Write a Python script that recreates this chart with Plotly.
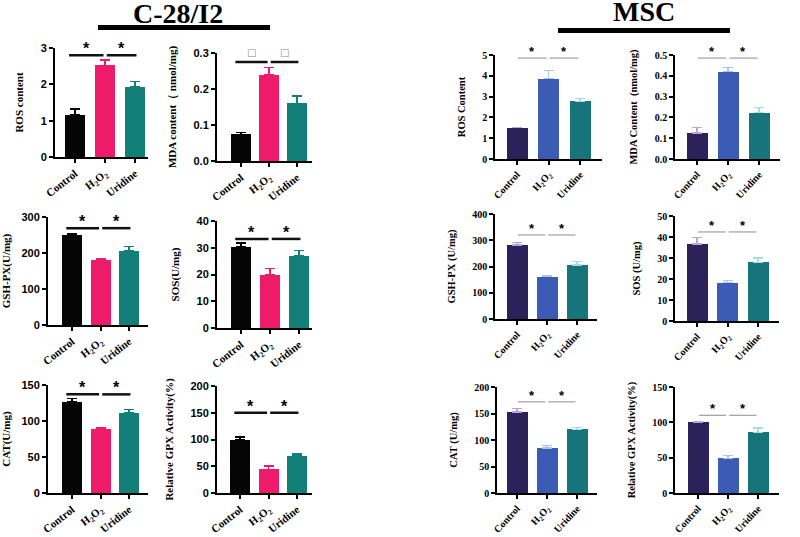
import plotly.graph_objects as go

W, H = 800, 537

groups = ["Control", "H<sub>2</sub>O<sub>2</sub>", "Uridine"]

# C-28/I2 data
ros_l = [1.15, 2.52, 1.93]
ros_l_err = [0.17, 0.15, 0.15]
mda_l = [0.074, 0.24, 0.16]
mda_l_err = [0.005, 0.02, 0.02]
gsh_l = [250, 181, 205]
gsh_l_err = [4, 3, 13]
sos_l = [30.3, 20.0, 27.0]
sos_l_err = [1.5, 2.2, 1.9]
cat_l = [126, 89, 111]
cat_l_err = [5, 2, 5]
gpx_l = [100, 44, 69]
gpx_l_err = [5, 7, 4]

# MSC data
ros_r = [1.5, 3.87, 2.77]
ros_r_err = [0.03, 0.4, 0.15]
mda_r = [0.125, 0.42, 0.222]
mda_r_err = [0.027, 0.02, 0.025]
gsh_r = [282, 161, 206]
gsh_r_err = [8, 6, 12]
sos_r = [36.7, 18.2, 28.0]
sos_r_err = [3.2, 1.2, 2.0]
cat_r = [153, 85, 120]
cat_r_err = [6, 5, 3]
gpx_r = [100, 49, 86]
gpx_r_err = [0.5, 4, 6]

# significance bar levels
sig_l = [2.8, 0.275, 269, 33.3, 137, 150]
sig_r = [4.85, 0.485, 320, 42.4, 172, 110]

left_colors = ["#050505", "#EE1A6A", "#128078"]
right_colors = ["#2B2259", "#3C5BB4", "#17747A"]
right_err_colors = ["#B6A6DE", "#A9C4EE", "#A7DCE0"]


def px_x(p):
    return p / W


def px_y(p):
    return 1 - p / H


# panel: values, errors, sig level, title, ymax, dtick, side, star text,
#        geometry px (y-axis x, x-axis end, first bar centre, spacing, y top, y bottom)
panels = [
    (ros_l, ros_l_err, sig_l[0], "ROS content", 3, 1, "L", "*", (55, 148, 75, 30, 48, 157)),
    (mda_l, mda_l_err, sig_l[1], "MDA content（ nmol/mg)", 0.3, 0.1, "L", "□", (217, 312, 241, 28, 53, 161)),
    (gsh_l, gsh_l_err, sig_l[2], "GSH-PX(U/mg)", 300, 100, "L", "*", (48, 148, 72, 28.5, 217, 325)),
    (sos_l, sos_l_err, sig_l[3], "SOS(U/mg)", 40, 10, "L", "*", (217, 312, 241, 29, 221, 328)),
    (cat_l, cat_l_err, sig_l[4], "CAT(U/mg)", 150, 50, "L", "*", (48, 148, 72, 28.5, 385, 493)),
    (gpx_l, gpx_l_err, sig_l[5], "Relative GPX Activity(%)", 200, 50, "L", "*", (217, 312, 240, 28.5, 386, 493)),
    (ros_r, ros_r_err, sig_r[0], "ROS Content", 5, 1, "R", "*", (495, 602, 517, 31.5, 55, 159)),
    (mda_r, mda_r_err, sig_r[1], "MDA Content  (nmol/mg)", 0.5, 0.1, "R", "*", (675, 780, 697, 31, 55, 159)),
    (gsh_r, gsh_r_err, sig_r[2], "GSH-PX (U/mg)", 400, 100, "R", "*", (495, 597, 517, 30, 214, 319)),
    (sos_r, sos_r_err, sig_r[3], "SOS (U/mg)", 50, 10, "R", "*", (675, 779, 697, 30.5, 216, 321)),
    (cat_r, cat_r_err, sig_r[4], "CAT (U/mg)", 200, 50, "R", "*", (497, 597, 517, 30, 387, 493)),
    (gpx_r, gpx_r_err, sig_r[5], "Relative GPX Activity(%)", 150, 50, "R", "*", (675, 779, 698, 30, 387, 493)),
]

fig = go.Figure()
layout = dict(
    width=W, height=H, margin=dict(l=0, r=0, t=0, b=0),
    paper_bgcolor="white", plot_bgcolor="white", showlegend=False,
    bargap=0,
)
annotations = []

for i, (vals, errs, sig, ytitle, ymax, dtick, side, star, geo) in enumerate(panels, start=1):
    xa = "x" if i == 1 else f"x{i}"
    ya = "y" if i == 1 else f"y{i}"
    x_ax, x_end, c0, sp, y_top, y_bot = geo
    left = side == "L"
    bw = (20 if left else 21) / sp

    for j in range(3):
        col = left_colors[j] if left else right_colors[j]
        ecol = left_colors[j] if left else right_err_colors[j]
        fig.add_trace(go.Bar(
            x=[j], y=[vals[j]], width=bw, marker_color=col, marker_line_width=0,
            error_y=dict(type="data", symmetric=False, array=[errs[j]], arrayminus=[0],
                         color=ecol, thickness=1.6 if left else 1.2, width=5),
            xaxis=xa, yaxis=ya, hoverinfo="skip",
        ))

    # significance lines
    if left:
        segs = [(-0.2, 0.95), (1.06, 2.05)]
        lcol, lw = "#111111", 2.5
    else:
        segs = [(0.03, 0.94), (1.04, 1.95)]
        lcol, lw = "#8C8C8C", 1
    fig.add_trace(go.Scatter(
        x=[segs[0][0], segs[0][1], None, segs[1][0], segs[1][1]],
        y=[sig, sig, None, sig, sig], mode="lines",
        line=dict(color=lcol, width=lw), xaxis=xa, yaxis=ya, hoverinfo="skip",
    ))
    for a, b in segs:
        if star == "□":
            annotations.append(dict(x=(a + b) / 2, y=sig, xref=xa, yref=ya, text=star,
                                    showarrow=False, yanchor="bottom", yshift=2,
                                    font=dict(size=10, color="#888888", family="DejaVu Sans")))
        else:
            annotations.append(dict(x=(a + b) / 2, y=sig, xref=xa, yref=ya, text=star,
                                    showarrow=False, yanchor="bottom", yshift=-4 if left else -3,
                                    font=dict(size=16 if left else 13, color="black",
                                              family="Liberation Sans", weight="bold")))

    ax_w = 2 if left else 1.5
    layout["xaxis" if i == 1 else f"xaxis{i}"] = dict(
        domain=[px_x(x_ax), px_x(x_end)],
        range=[(x_ax - c0) / sp, (x_end - c0) / sp],
        anchor=ya, showline=True, linecolor="black", linewidth=ax_w,
        ticks="outside", ticklen=4, tickwidth=ax_w, tickcolor="black",
        tickvals=[0, 1, 2], ticktext=groups, tickangle=-38 if left else -47,
        tickfont=dict(family="Liberation Serif", size=11 if left else 10,
                      color="black", weight="bold"),
        showgrid=False, zeroline=False, fixedrange=True, automargin=False,
    )
    layout["yaxis" if i == 1 else f"yaxis{i}"] = dict(
        domain=[px_y(y_bot), px_y(y_top)],
        range=[0, ymax], dtick=dtick, tickformat=".1f" if ymax < 1 else "d",
        anchor=xa, showline=True, linecolor="black", linewidth=ax_w,
        ticks="outside", ticklen=4, tickwidth=ax_w, tickcolor="black",
        tickfont=dict(family="Liberation Sans" if left else "Liberation Sans Narrow",
                      size=11 if left else 10, color="black", weight="bold"),
        title=dict(text=ytitle,
                   font=dict(family="Liberation Serif", size=11 if left else 10.5,
                             color="black", weight="bold")),
        showgrid=False, zeroline=False, fixedrange=True, automargin=False,
    )

# group headers
annotations.append(dict(x=px_x(178), y=px_y(14), xref="paper", yref="paper", text="C-28/I2",
                        showarrow=False, xanchor="center", yanchor="middle",
                        font=dict(family="Liberation Serif", size=28,
                                  color="black", weight="bold")))
annotations.append(dict(x=px_x(644), y=px_y(12), xref="paper", yref="paper", text="MSC",
                        showarrow=False, xanchor="center", yanchor="middle",
                        font=dict(family="Liberation Serif", size=28,
                                  color="black", weight="bold")))
layout["annotations"] = annotations
layout["shapes"] = [
    dict(type="line", xref="paper", yref="paper", x0=px_x(98), x1=px_x(270),
         y0=px_y(27.5), y1=px_y(27.5), line=dict(color="black", width=5)),
    dict(type="line", xref="paper", yref="paper", x0=px_x(558), x1=px_x(730),
         y0=px_y(30.5), y1=px_y(30.5), line=dict(color="black", width=5)),
]

fig.update_layout(**layout)
# drop the browser's default body margin so the figure sits at the page corner
fig.write_html("out.html", config={"displayModeBar": False},
               post_script="document.body.style.margin = '0';")
